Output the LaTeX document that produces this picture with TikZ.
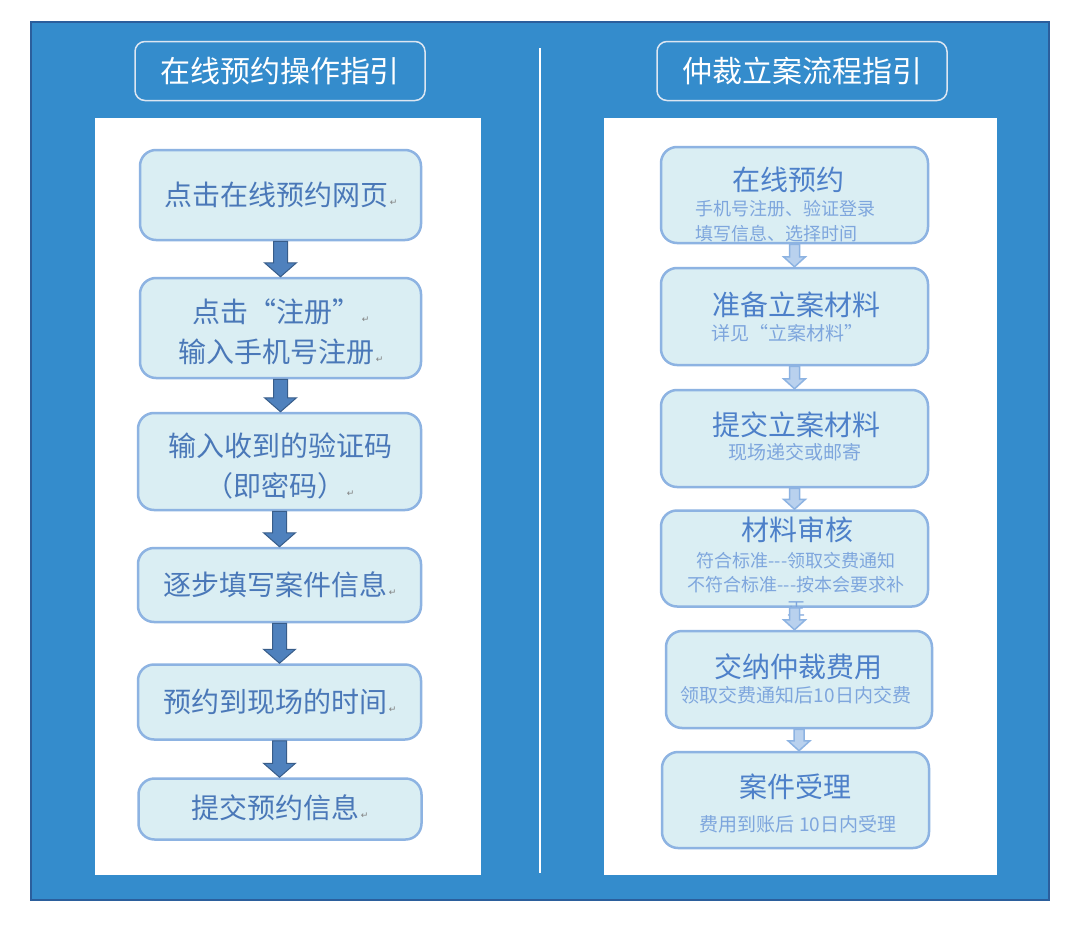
\documentclass[tikz,border=0pt]{standalone}
\usepackage{fontspec}
\newfontfamily\cjk{Noto Sans CJK SC}
\newfontfamily\retfont{DejaVu Sans}
\usepackage{tikz}
\usetikzlibrary{calc}
\definecolor{Bg}{HTML}{348CCC}
\definecolor{BgLine}{HTML}{2B5E9C}
\definecolor{BoxFill}{HTML}{DAEEF3}
\definecolor{BoxLine}{HTML}{8DB3E2}
\definecolor{ArrDark}{HTML}{4F81BD}
\definecolor{ArrDarkLine}{HTML}{385D8A}
\definecolor{ArrLight}{HTML}{B9D1EE}
\definecolor{TxtL}{HTML}{4A78B8}
\definecolor{TxtR}{HTML}{4D80C9}
\definecolor{TxtS}{HTML}{7EA6DD}
\definecolor{HeadLine}{HTML}{DCE6F2}

\newcommand\fsz[1]{\fontsize{#1}{#1}\selectfont}
\newcommand\ret{{\retfont\fontsize{9}{9}\selectfont\color{gray}\,↵}}
% block arrow from the bottom of one box to the top of the next
\newcommand\blockarr[6]{%
  \path[#1] let \p1=(#2.south), \p2=(#3.north) in
    (\x1-#4,\y1) -- (\x1+#4,\y1) -- (\x1+#4,\y2+#6) -- (\x1+#5,\y2+#6)
    -- (\x1,\y2) -- (\x1-#5,\y2+#6) -- (\x1-#4,\y2+#6) -- cycle;}

\begin{document}
\begin{tikzpicture}[x=1pt,y=-1pt,
  every node/.style={font=\cjk},
  headbox/.style={draw=HeadLine,line width=1.5pt,rounded corners=10pt,
    minimum width=290pt,minimum height=59pt,text=white,font=\cjk\fsz{30}},
  stepbox/.style={draw=BoxLine,line width=2.5pt,fill=BoxFill,
    rounded corners=16pt,inner sep=0pt},
  ltext/.style={text=TxtL,font=\cjk\fsz{28},align=center,
    execute at begin node=\setlength{\baselineskip}{40pt}},
  rtitle/.style={text=TxtR,font=\cjk\fsz{28}},
  rsub/.style={text=TxtS,font=\cjk\fsz{19}},
  darkarr/.style={fill=ArrDark,draw=ArrDarkLine,line width=1pt},
  lightarr/.style={fill=ArrLight,draw=BoxLine,line width=1.5pt}]
\useasboundingbox (0,0) rectangle (1080,926);
\fill[white] (0,0) rectangle (1080,926);
\fill[Bg] (31,22) rectangle (1049,900);
\draw[BgLine,line width=1.5pt] (31,22) rectangle (1049,900);
\draw[white,line width=2pt] (540,48) -- (540,873);

% headings
\node[headbox] (headL) at (280,71) {在线预约操作指引};
\node[headbox] (headR) at (802,71) {仲裁立案流程指引};

% panels
\fill[white] (95,118) rectangle (481,875);
\fill[white] (604,118) rectangle (997,875);

% left column
\node[stepbox,minimum width=281pt,minimum height=90pt] (lb1) at (280.5,195) {};
\node[stepbox,minimum width=281pt,minimum height=100pt] (lb2) at (280.5,328) {};
\node[stepbox,minimum width=283pt,minimum height=97pt] (lb3) at (279.5,461.5) {};
\node[stepbox,minimum width=283pt,minimum height=74pt] (lb4) at (279.5,585) {};
\node[stepbox,minimum width=283pt,minimum height=75pt] (lb5) at (279.5,702) {};
\node[stepbox,minimum width=283pt,minimum height=61pt] (lb6) at (280,809) {};

\node[ltext] (lt1) at (281,195) {点击在线预约网页\ret};
\node[ltext] (lt2) at (281,332) {点击“注册”\ret\\输入手机号注册\ret};
\node[ltext] (lt3) at (280,466) {输入收到的验证码\\（即密码）\ret};
\node[ltext] (lt4) at (280,585) {逐步填写案件信息\ret};
\node[ltext] (lt5) at (280,702) {预约到现场的时间\ret};
\node[ltext] (lt6) at (280,808) {提交预约信息\ret};

\blockarr{darkarr}{lb1}{lb2}{7pt}{16pt}{14pt}
\blockarr{darkarr}{lb2}{lb3}{7pt}{16pt}{14pt}
\blockarr{darkarr}{lb3}{lb4}{7pt}{16pt}{14pt}
\blockarr{darkarr}{lb4}{lb5}{7pt}{16pt}{14pt}
\blockarr{darkarr}{lb5}{lb6}{7pt}{16pt}{14pt}

% right column
\node[stepbox,minimum width=267pt,minimum height=96pt] (rb1) at (794.5,195) {};
\node[stepbox,minimum width=267pt,minimum height=97pt] (rb2) at (794.5,316.5) {};
\node[stepbox,minimum width=267pt,minimum height=97pt] (rb3) at (794.5,438.5) {};
\node[stepbox,minimum width=267pt,minimum height=96pt] (rb4) at (794.5,558.5) {};
\node[stepbox,minimum width=266pt,minimum height=97pt] (rb5) at (799,679.5) {};
\node[stepbox,minimum width=267pt,minimum height=96pt] (rb6) at (795.5,800) {};

\node[rtitle] (rt1) at (788,180) {在线预约};
\node[rsub,font=\cjk\fsz{18},align=left,
  execute at begin node=\setlength{\baselineskip}{25pt}] (rs1) at (785,221)
  {手机号注册、验证登录\\填写信息、选择时间};
\node[rtitle] (rt2) at (796,305) {准备立案材料};
\node[rsub,anchor=west] (rs2) at (708,333) {详见“立案材料”};
\node[rtitle] (rt3) at (796,425) {提交立案材料};
\node[rsub] (rs3) at (795,452) {现场递交或邮寄};
\node[rtitle] (rt4) at (797,530) {材料审核};
\node[rsub,font=\cjk\fsz{18},align=center,
  execute at begin node=\setlength{\baselineskip}{24pt}] (rs4) at (796,584)
  {符合标准---领取交费通知\\不符合标准---按本会要求补\\正};
\node[rtitle] (rt5) at (798,667) {交纳仲裁费用};
\node[rsub] (rs5) at (796,695) {领取交费通知后10日内交费};
\node[rtitle] (rt6) at (795,787) {案件受理};
\node[rsub] (rs6) at (798,824) {费用到账后 10日内受理};

\blockarr{lightarr}{rb1}{rb2}{5pt}{11pt}{10pt}
\blockarr{lightarr}{rb2}{rb3}{5pt}{11pt}{10pt}
\blockarr{lightarr}{rb3}{rb4}{5pt}{11pt}{10pt}
\blockarr{lightarr}{rb4}{rb5}{5pt}{11pt}{10pt}
\blockarr{lightarr}{rb5}{rb6}{5pt}{11pt}{10pt}
\end{tikzpicture}
\end{document}
